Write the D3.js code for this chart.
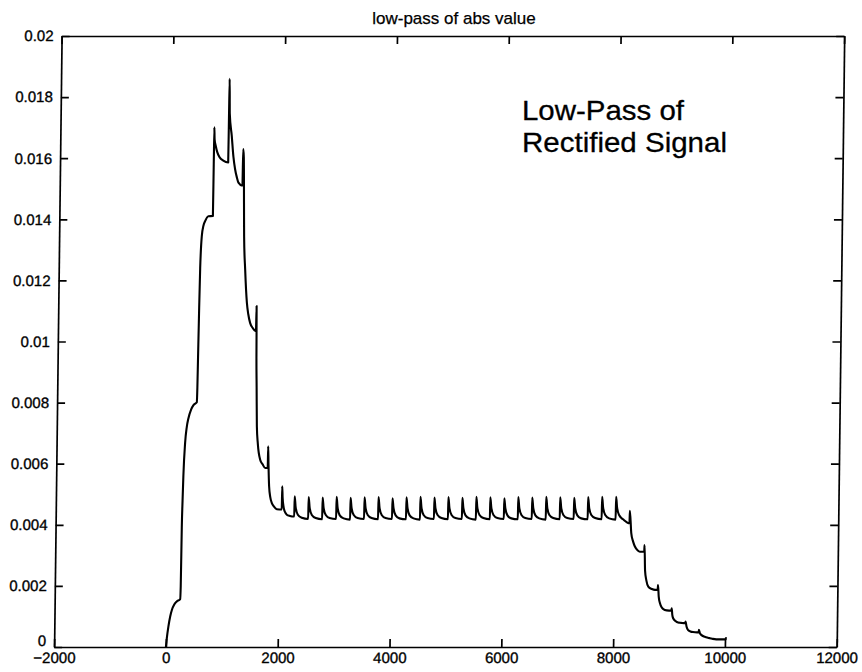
<!DOCTYPE html>
<html>
<head>
<meta charset="utf-8">
<script src="https://cdn.jsdelivr.net/npm/d3@7"></script>
<style>
  body { margin: 0; background: #fff; }
  svg text { font-family: Arial, "Liberation Sans", Helvetica, sans-serif; fill: #000; }
</style>
</head>
<body>
<svg id="chart" width="862" height="672"></svg>
<script>
// ---------------- data ----------------
const chartTitle = "low-pass of abs value";
const annotationLines = ["Low-Pass of", "Rectified Signal"];
const xDomain = [-2000, 12000];
const yDomain = [0, 0.02];
const xTickValues = [-2000, 0, 2000, 4000, 6000, 8000, 10000, 12000];
const yTickValues = [0, 0.002, 0.004, 0.006, 0.008, 0.01, 0.012, 0.014, 0.016, 0.018, 0.02];
const yTickLabels = ["0", "0.002", "0.004", "0.006", "0.008", "0.01", "0.012", "0.014", "0.016", "0.018", "0.02"];

// [sample index, low-pass level]
const lowPassSignal = [
  [0,0],[15,0.00030],[40,0.00067],[70,0.00100],[100,0.00122],[140,0.00139],[185,0.00149],[245,0.00157],
  [252,0.00200],[258,0.00390],[266,0.00480],[275,0.00560],[299,0.00668],[325,0.00720],[352,0.00748],[400,0.00778],[440,0.00792],[500,0.00801],
  [506,0.00850],[511,0.00940],[520,0.01100],[530,0.01240],[552,0.01345],[580,0.01380],[608,0.01394],[666,0.01410],[746,0.01411],
  [750,0.01580],[753,0.01701],[760,0.01662],[782,0.01640],[810,0.01620],[850,0.01604],[920,0.01592],[1008,0.01586],
  [1012,0.01728],[1016,0.01860],[1026,0.01745],[1066,0.01673],[1100,0.01605],[1133,0.01564],[1165,0.01538],[1196,0.01520],[1268,0.01510],
  [1274,0.01630],[1286,0.01605],[1300,0.01450],[1309,0.01345],[1335,0.01236],[1373,0.01127],[1400,0.01090],[1435,0.01061],[1480,0.01045],[1542,0.01034],
  [1548,0.01116],[1556,0.00950],[1566,0.00850],[1579,0.00722],[1600,0.00665],[1645,0.00613],[1690,0.00598],[1736,0.00586],[1782,0.00586],
  [1786,0.00657],[1795,0.00600],[1811,0.00526],[1835,0.00490],[1864,0.00471],[1900,0.00460],[1954,0.00451],[2042,0.00450],
  [2046,0.00526],[2055,0.00490],[2075,0.00458],[2100,0.00442],[2134,0.00433],[2190,0.00429],[2267,0.00427],
  [2271,0.00493],[2291,0.00457],[2331,0.00433],[2401,0.00423],[2517,0.00419],
  [2521,0.00491],[2541,0.00456],[2581,0.00432],[2651,0.00422],[2767,0.00418],
  [2771,0.00489],[2791,0.00455],[2831,0.00432],[2901,0.00422],[3017,0.00419],
  [3021,0.00492],[3041,0.00456],[3081,0.00431],[3151,0.00421],[3267,0.00417],
  [3271,0.00488],[3291,0.00455],[3331,0.00432],[3401,0.00422],[3517,0.00419],
  [3521,0.00490],[3541,0.00456],[3581,0.00432],[3651,0.00422],[3767,0.00418],
  [3771,0.00491],[3791,0.00456],[3831,0.00432],[3901,0.00422],[4017,0.00419],
  [4021,0.00487],[4041,0.00455],[4081,0.00431],[4151,0.00421],[4267,0.00418],
  [4271,0.00490],[4291,0.00456],[4331,0.00431],[4401,0.00421],[4517,0.00417],
  [4521,0.00492],[4541,0.00457],[4581,0.00432],[4651,0.00422],[4767,0.00419],
  [4771,0.00489],[4791,0.00455],[4831,0.00432],[4901,0.00422],[5017,0.00418],
  [5021,0.00491],[5041,0.00456],[5081,0.00432],[5151,0.00422],[5267,0.00419],
  [5271,0.00488],[5291,0.00455],[5331,0.00431],[5401,0.00421],[5517,0.00417],
  [5521,0.00492],[5541,0.00456],[5581,0.00432],[5651,0.00422],[5767,0.00418],
  [5771,0.00490],[5791,0.00456],[5831,0.00432],[5901,0.00422],[6017,0.00419],
  [6021,0.00487],[6041,0.00455],[6081,0.00431],[6151,0.00421],[6267,0.00418],
  [6271,0.00491],[6291,0.00456],[6331,0.00432],[6401,0.00422],[6517,0.00419],
  [6521,0.00489],[6541,0.00455],[6581,0.00431],[6651,0.00421],[6767,0.00417],
  [6771,0.00492],[6791,0.00457],[6831,0.00432],[6901,0.00422],[7017,0.00418],
  [7021,0.00490],[7041,0.00456],[7081,0.00432],[7151,0.00422],[7267,0.00419],
  [7271,0.00488],[7291,0.00455],[7331,0.00431],[7401,0.00421],[7517,0.00418],
  [7521,0.00491],[7541,0.00456],[7581,0.00432],[7651,0.00422],[7767,0.00418],
  [7771,0.00492],[7791,0.00456],[7831,0.00432],[7901,0.00421],[8017,0.00417],
  [8021,0.00492],[8041,0.00456],[8081,0.00431],[8151,0.00418],[8266,0.00405],
  [8270,0.00446],[8300,0.00373],[8335,0.00345],[8368,0.00329],[8420,0.00316],[8458,0.00312],[8536,0.00312],
  [8540,0.00334],[8555,0.00250],[8580,0.00218],[8616,0.00198],[8680,0.00190],[8737,0.00187],[8785,0.00187],
  [8790,0.00203],[8805,0.00165],[8829,0.00143],[8860,0.00130],[8890,0.00124],[8950,0.00120],[9035,0.00119],
  [9040,0.00127],[9052,0.00105],[9068,0.00094],[9110,0.00085],[9158,0.00080],[9210,0.00079],[9285,0.00078],
  [9290,0.00083],[9310,0.00066],[9335,0.00056],[9380,0.00051],[9425,0.00049],[9500,0.00048],[9527,0.00048],
  [9532,0.00056],[9550,0.00045],[9580,0.00039],[9604,0.00036],[9660,0.00032],[9723,0.00029],[9770,0.00027],[9843,0.00025],[9920,0.00025],[10013,0.00025],
  [10018,0.00032]
];

// ---------------- layout ----------------
const svg = d3.select("#chart");
const plotW = 782.6, plotH = 611;
const originX = 61.6, originY = 36;   // top-left corner of the axes box
const skew = -7.5 / plotH;            // scanned page is slightly sheared

const x = d3.scaleLinear().domain(xDomain).range([0, plotW]);
const y = d3.scaleLinear().domain(yDomain).range([plotH, 0]);

const g = svg.append("g")
  .attr("transform", `matrix(1,0,${skew},1,${originX},${originY})`);

const tick = 8;
function styleAxis(sel) {
  sel.selectAll("path.domain").attr("stroke", "#000").attr("stroke-width", 1.7);
  sel.selectAll(".tick line").attr("stroke", "#000").attr("stroke-width", 1.7);
  sel.selectAll(".tick text").attr("font-size", 15).attr("fill", "#000")
     .attr("stroke", "#000").attr("stroke-width", 0.35)
     .attr("font-family", "Arial, 'Liberation Sans', sans-serif");
}

// bottom
g.append("g").attr("transform", `translate(0,${plotH})`)
  .call(d3.axisBottom(x).tickValues(xTickValues).tickSizeInner(-tick).tickSizeOuter(0).tickPadding(5)
        .tickFormat(d3.format("d")))
  .call(styleAxis);
// top
g.append("g")
  .call(d3.axisTop(x).tickValues(xTickValues).tickSizeInner(-tick).tickSizeOuter(0).tickFormat(""))
  .call(styleAxis);
// left
const leftAxis = g.append("g")
  .call(d3.axisLeft(y).tickValues(yTickValues).tickSizeInner(-tick).tickSizeOuter(0).tickPadding(8)
        .tickFormat((d, i) => yTickLabels[i]))
  .call(styleAxis);
// lift the bottom "0" label slightly so it clears the "-2000" label below it
leftAxis.selectAll(".tick text").filter(d => d === 0).attr("dy", "-0.12em");
// right
g.append("g").attr("transform", `translate(${plotW},0)`)
  .call(d3.axisRight(y).tickValues(yTickValues).tickSizeInner(-tick).tickSizeOuter(0).tickFormat(""))
  .call(styleAxis);

// the trace
const line = d3.line()
  .x(d => x(d[0]))
  .y(d => y(d[1]))
  .curve(d3.curveMonotoneX);

g.append("path")
  .datum(lowPassSignal)
  .attr("fill", "none")
  .attr("stroke", "#000")
  .attr("stroke-width", 2.1)
  .attr("stroke-linejoin", "round")
  .attr("d", line);

// title
svg.append("text")
  .attr("x", 454).attr("y", 24)
  .attr("text-anchor", "middle")
  .attr("font-size", 17)
  .attr("stroke", "#000").attr("stroke-width", 0.25)
  .text(chartTitle);

// annotation
const ann = svg.append("text").attr("font-size", 28)
  .attr("stroke", "#000").attr("stroke-width", 0.3);
ann.append("tspan").attr("x", 522).attr("y", 120)
  .attr("textLength", 162).attr("lengthAdjust", "spacingAndGlyphs").text(annotationLines[0]);
ann.append("tspan").attr("x", 522).attr("y", 152)
  .attr("textLength", 205).attr("lengthAdjust", "spacingAndGlyphs").text(annotationLines[1]);
</script>
</body>
</html>
